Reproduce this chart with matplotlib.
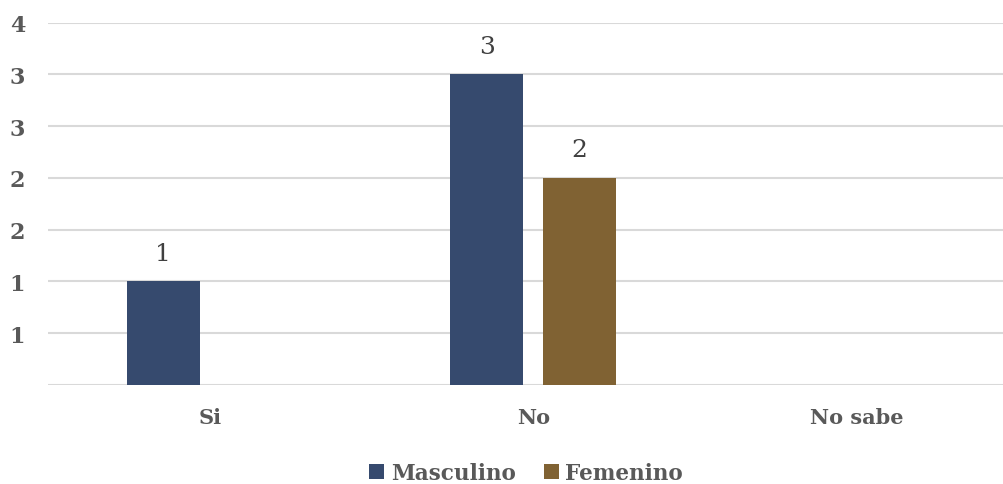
import math
import matplotlib
matplotlib.use("Agg")
import matplotlib.pyplot as plt
from matplotlib.ticker import FuncFormatter
import numpy as np

# Respuestas por sexo
categories = ["Si", "No", "No sabe"]
masculino = [1, 3, 0]
femenino = [0, 2, 0]
series_names = ["Masculino", "Femenino"]

BLUE = "#364A6E"
BROWN = "#806233"
GRID = "#D9D9D9"
TICK_COLOR = "#595959"
LABEL_COLOR = "#404040"

plt.rcParams["font.family"] = ["DejaVu Serif"]

fig = plt.figure(figsize=(10.04, 4.85), dpi=100)
ax = fig.add_axes([48 / 1004, 1 - 386 / 485, 970.5 / 1004, 362.5 / 485])

x = np.arange(len(categories))
width = 0.2257
offset = 0.1437

bars_m = ax.bar(x - offset, masculino, width, color=BLUE, label=series_names[0], zorder=3)
bars_f = ax.bar(x + offset, femenino, width, color=BROWN, label=series_names[1], zorder=3)

for bars in (bars_m, bars_f):
    for b in bars:
        h = b.get_height()
        if h > 0:
            ax.text(b.get_x() + b.get_width() / 2, h + 0.27, f"{h:g}",
                    ha="center", va="center", fontsize=18, color=LABEL_COLOR)

ax.set_xlim(-0.5, 2.5)
ax.set_ylim(0, 3.5)
ax.set_yticks(np.arange(0, 3.51, 0.5))
ax.yaxis.set_major_formatter(FuncFormatter(
    lambda v, pos: "" if v == 0 else str(int(math.floor(v + 0.5)))))
ax.set_xticks(x)
ax.set_xticklabels(categories)

ax.grid(axis="y", color=GRID, linewidth=1.5, zorder=0)
ax.set_axisbelow(True)
for spine in ax.spines.values():
    spine.set_visible(False)

ax.tick_params(axis="both", length=0, colors=TICK_COLOR)
ax.tick_params(axis="y", pad=16.5, labelsize=16)
ax.tick_params(axis="x", pad=16, labelsize=15)
for lbl in ax.get_xticklabels() + ax.get_yticklabels():
    lbl.set_fontweight("bold")

leg = fig.legend(loc="center", bbox_to_anchor=(526 / 1004, 1 - 474 / 485), ncol=2,
                 frameon=False, handlelength=0.7, handleheight=0.7,
                 handletextpad=0.3, columnspacing=1.3,
                 prop={"size": 15.5, "weight": "bold"})
for t in leg.get_texts():
    t.set_color(TICK_COLOR)

fig.savefig("out.png", dpi=100)
